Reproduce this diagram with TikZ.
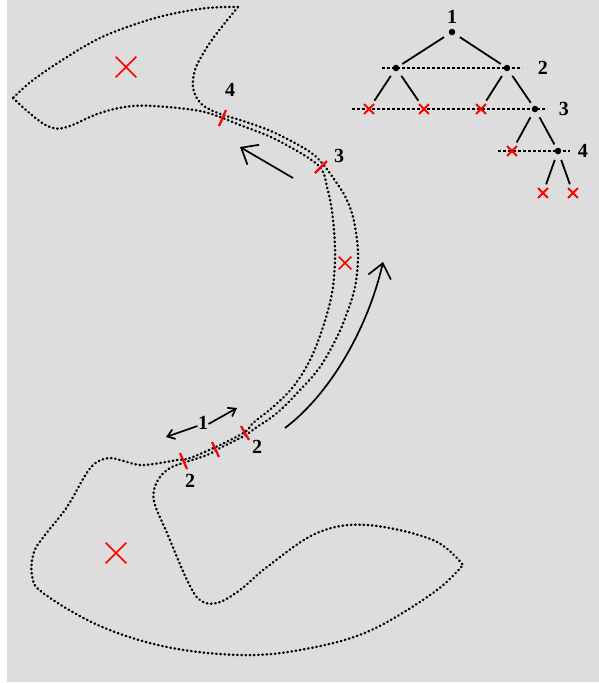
\documentclass[tikz,border=0pt]{standalone}
\usepackage{fontspec}
\setmainfont{Liberation Serif}
\usetikzlibrary{arrows.meta,shapes.misc,positioning,backgrounds}
\definecolor{panelgray}{RGB}{221,221,221}
\definecolor{cutred}{RGB}{255,0,0}

\begin{document}
\begin{tikzpicture}[x=1pt, y=-1pt,
      font=\fontsize{20}{24}\selectfont\bfseries,
      dotline/.style={line width=2.5pt, dash pattern=on 0.5pt off 3.7pt, line cap=round},
      cut/.style={draw=cutred, line width=2.2pt},
      bigx/.style={cross out, draw=cutred, line width=1.6pt, minimum size=19pt, inner sep=0pt},
      leafx/.style={cross out, draw=cutred, line width=1.9pt, minimum size=8pt, inner sep=0pt},
      dot/.style={circle, fill, inner sep=0pt, minimum size=6.5pt},
      branch/.style={line width=1.8pt, shorten <=6pt, shorten >=4pt},
      level/.style={line width=1.4pt, dash pattern=on 3pt off 2pt},
      arr/.style={line width=1.7pt, -{Straight Barb[length=14pt, width=23pt]}},
      smallarr/.style={line width=1.7pt, -{Straight Barb[length=7pt, width=10pt]}}
    ]
    \useasboundingbox (0,0) rectangle (599,683);
    \begin{scope}[on background layer]
      \fill[panelgray] (7,0) rectangle (599,682);
    \end{scope}

    % corridor walls
    \draw[dotline] plot[smooth, tension=0.6] coordinates {(238,7) (207,8) (167,15)
      (133,25) (100,38) (67,57) (33,80) (13,98)};
    \draw[dotline] plot[smooth, tension=0.6] coordinates {(13,98) (33,116) (50,127)
      (67,127) (100,113) (133,106) (167,107) (200,111) (220,117) (240,125) (273,138)
      (307,157) (322,170) (327,187) (331,205) (334,230) (335,260) (332,293) (323,327)
      (310,360) (293,387) (273,407) (253,423) (245,432) (220,445) (190,458) (177,460)
      (160,463) (140,465) (120,460) (110,458) (97,462) (86,474) (67,507) (45,535)
      (34,552) (32,575) (43,593) (100,626) (167,647) (240,655) (300,650) (367,632)
      (433,593) (463,565)};
    \draw[dotline] plot[smooth, tension=0.6] coordinates {(238,7) (217,33) (204,52)
      (195,70) (193,87) (198,100) (207,108) (223,115) (240,120) (273,132) (307,150)
      (322,163) (336,182) (346,198) (353,217) (357,240) (358,260) (355,287) (347,313)
      (337,337) (320,367) (300,390) (277,413) (257,427) (246,435) (220,448) (207,455)
      (183,463) (170,468) (160,477) (154,490) (155,505) (167,533) (187,580) (200,600)
      (217,603) (240,590) (267,567) (317,533) (367,525) (433,540) (463,565)};

    % cuts
    \draw[cut] (219,126) -- (226,110);
    \draw[cut] (315,173) -- (327,161);
    \draw[cut] (241,426) -- (249,440);
    \draw[cut] (212,442) -- (219,457);
    \draw[cut] (180,453) -- (187,469);

    \node[bigx] (xtop) at (126,67) {};
    \node[bigx, minimum size=11pt] (xmid) at (345,263) {};
    \node[bigx] (xlow) at (116,553) {};

    \node (c4) at (230,90) {4};
    \node (c3) at (339,156) {3};
    \node (c1) at (203,423) {1};
    \node (c2r) at (257,447) {2};
    \node (c2l) at (190,481) {2};

    % arrows
    \coordinate (upTail) at (293,178);
    \coordinate (upTip) at (240,147);
    \draw[arr] (upTail) -- (upTip);
    \coordinate (sweepStart) at (285,428);
    \coordinate (sweepEnd) at (383,262);
    \draw[arr] (sweepStart) .. controls (335,390) and (370,320) .. (sweepEnd);
    \coordinate (oneL) at (166,437);
    \coordinate (oneR) at (237,408);
    \draw[smallarr] (c1.west) ++(3,3) -- (oneL);
    \draw[smallarr] ([xshift=-3pt,yshift=-1pt]c1.east) -- (oneR);

    % tree
    \node[dot] (t1) at (452,32) {};
    \node[dot] (t2a) at (396,68) {};
    \node[dot] (t2b) at (507,68) {};
    \node[leafx] (t3a) at (369,109) {};
    \node[leafx] (t3b) at (424,109) {};
    \node[leafx] (t3c) at (481,109) {};
    \node[dot] (t3d) at (535,109) {};
    \node[leafx] (t4a) at (512,151) {};
    \node[dot] (t4b) at (558,151) {};
    \node[leafx] (t5a) at (543,193) {};
    \node[leafx] (t5b) at (573,193) {};

    \draw[branch] (t1) -- (t2a);
    \draw[branch] (t1) -- (t2b);
    \draw[branch] (t2a) -- (t3a);
    \draw[branch] (t2a) -- (t3b);
    \draw[branch] (t2b) -- (t3c);
    \draw[branch] (t2b) -- (t3d);
    \draw[branch] (t3d) -- (t4a);
    \draw[branch] (t3d) -- (t4b);
    \draw[branch] (t4b) -- (t5a);
    \draw[branch] (t4b) -- (t5b);

    \begin{scope}[on background layer]
      \draw[level] ([xshift=-14pt]t2a.center) -- ([xshift=15pt]t2b.center);
      \draw[level] ([xshift=-17pt]t3a.center) -- ([xshift=12pt]t3d.center);
      \draw[level] ([xshift=-14pt]t4a.center) -- ([xshift=12pt]t4b.center);
    \end{scope}

    \node[above=2pt of t1] (l1) {1};
    \node[right=24pt of t2b] (l2) {2};
    \node[right=17pt of t3d] (l3) {3};
    \node[right=13pt of t4b] (l4) {4};
  \end{tikzpicture}
\end{document}
